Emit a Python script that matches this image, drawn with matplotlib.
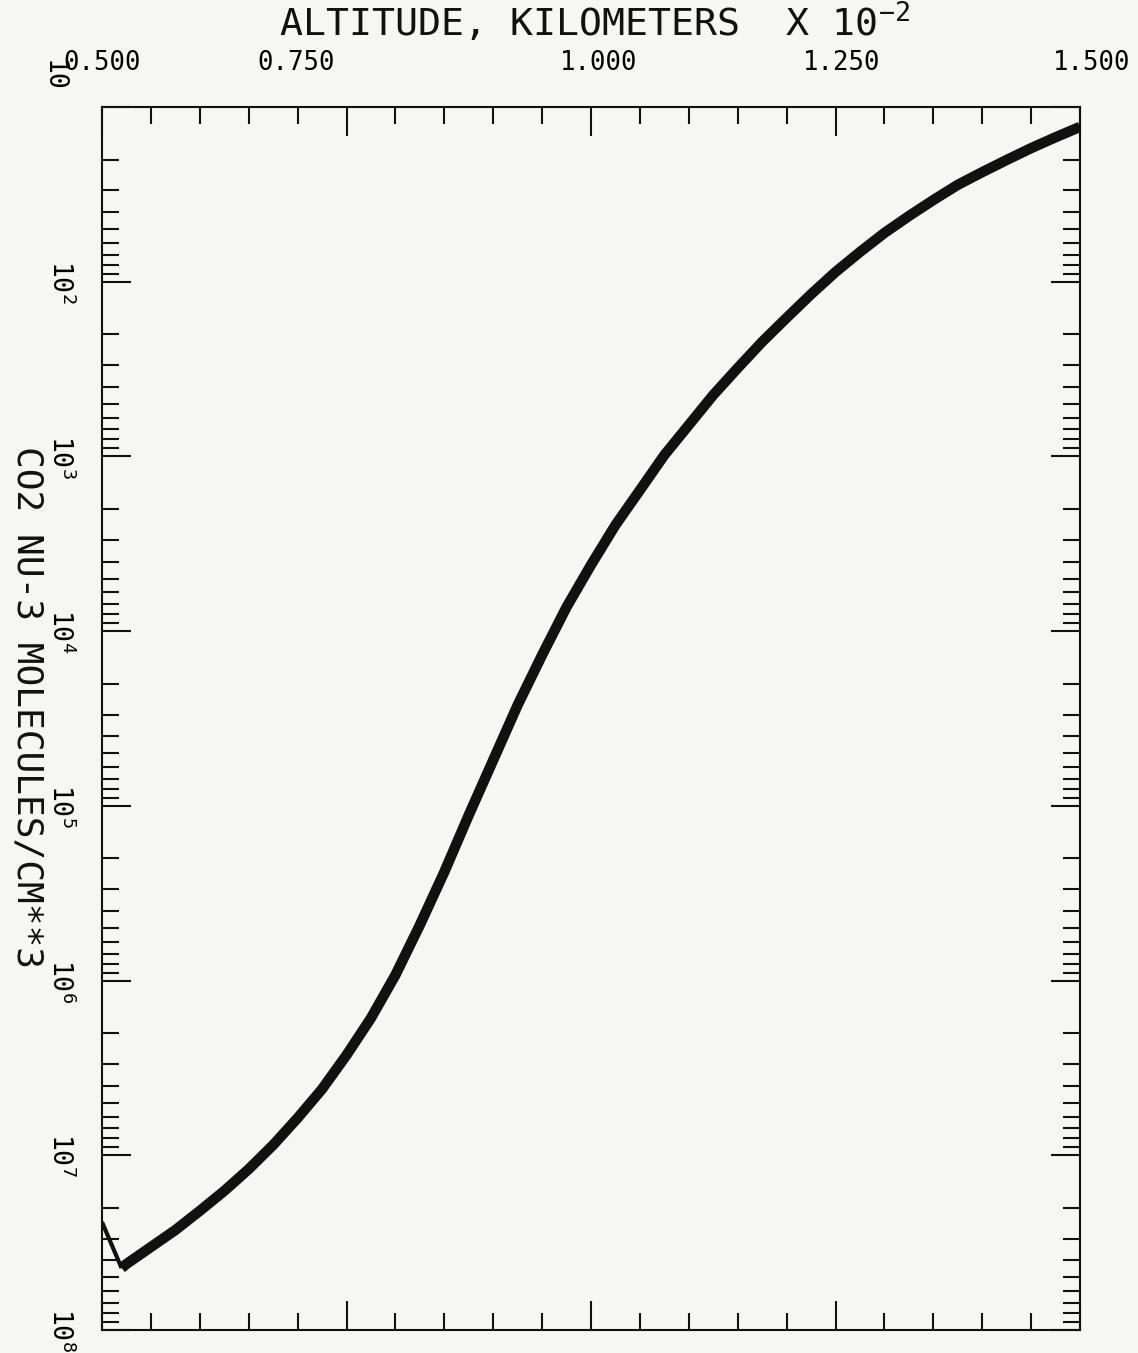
import matplotlib
matplotlib.use("Agg")
import matplotlib.pyplot as plt
import matplotlib.ticker as mticker
from matplotlib.transforms import ScaledTranslation

plt.rcParams['font.family'] = ['DejaVu Sans Mono', 'DejaVu Sans']
plt.rcParams['mathtext.fontset'] = 'custom'
plt.rcParams['mathtext.rm'] = 'DejaVu Sans Mono'
plt.rcParams['mathtext.default'] = 'rm'

# altitude (km x 10^-2) vs CO2 nu-3 density
ALT = [0.500, 0.520, 0.525, 0.550, 0.575, 0.600, 0.625, 0.650, 0.675, 0.700,
       0.725, 0.750, 0.775, 0.800, 0.825, 0.850, 0.875, 0.900, 0.925, 0.950,
       0.975, 1.000, 1.025, 1.050, 1.075, 1.100, 1.125, 1.150, 1.175, 1.200,
       1.225, 1.250, 1.275, 1.300, 1.325, 1.350, 1.375, 1.400, 1.425, 1.450,
       1.475, 1.500]
DENS = [2.41e7, 4.42e7, 4.19e7, 3.35e7, 2.68e7, 2.08e7, 1.60e7, 1.20e7, 8.73e6, 6.12e6,
        4.18e6, 2.67e6, 1.64e6, 9.3e5, 4.81e5, 2.39e5, 1.13e5, 5.47e4, 2.65e4, 1.37e4,
        7.28e3, 4.18e3, 2.47e3, 1.56e3, 982, 661, 445, 312, 221, 161,
        118, 88, 67.6, 52.6, 42.1, 34.1, 27.9, 23.6, 20.1, 17.2,
        14.9, 13.0]

X_TICKS = [0.50, 0.75, 1.00, 1.25, 1.50]
X_LABELS = ['0.500', '0.750', '1.000', '1.250', '1.500']
Y_TICKS = [1e1, 1e2, 1e3, 1e4, 1e5, 1e6, 1e7, 1e8]
Y_LABELS = ['10', r'10$^2$', r'10$^3$', r'10$^4$', r'10$^5$', r'10$^6$',
            r'10$^7$', r'10$^8$']

BG = '#f6f6f4'
INK = '#111111'

fig = plt.figure(figsize=(11.38, 13.53), dpi=100, facecolor=BG)
ax = fig.add_axes([102/1138, 23/1353, 978/1138, 1223/1353], facecolor=BG)

# the first drop is drawn thin, the rest is a thick bundle of profiles
ax.plot(ALT[:2], DENS[:2], color=INK, lw=3, solid_capstyle='butt')
ax.plot(ALT[1:], DENS[1:], color=INK, lw=7.5, solid_joinstyle='round', solid_capstyle='butt')

ax.set_yscale('log')
ax.set_xlim(0.5, 1.5)
ax.set_ylim(1e8, 1e1)

ax.set_xticks(X_TICKS)
ax.set_xticklabels(X_LABELS)
ax.xaxis.set_minor_locator(mticker.MultipleLocator(0.05))
ax.set_yticks(Y_TICKS)
ax.set_yticklabels(Y_LABELS)
ax.yaxis.set_minor_locator(mticker.LogLocator(base=10, subs=range(2, 10), numticks=20))
ax.yaxis.set_minor_formatter(mticker.NullFormatter())

for s in ax.spines.values():
    s.set_linewidth(1.5)
    s.set_color(INK)

ax.tick_params(which='both', direction='in', top=True, bottom=True, left=True, right=True,
               labeltop=True, labelbottom=False, labelleft=True, labelright=False,
               color=INK, width=1.5)
ax.tick_params(which='major', length=21)
ax.tick_params(which='minor', length=12)
ax.tick_params(axis='x', which='major', pad=22.5, labelsize=18.5)
ax.tick_params(axis='y', which='major', pad=20, labelsize=19, labelrotation=270)
for lab in ax.get_yticklabels():
    lab.set_va('center')

# plotter put the top labels a little off their ticks
x_shift = [0, -50, 8, 6, 12]
for lab, dx in zip(ax.get_xticklabels(), x_shift):
    lab.set_transform(lab.get_transform() + ScaledTranslation(dx / 100, 0, fig.dpi_scale_trans))
top_lab = ax.get_yticklabels()[0]
top_lab.set_transform(top_lab.get_transform() + ScaledTranslation(-0.08, 0.31, fig.dpi_scale_trans))

ax.xaxis.set_label_position('top')
ax.set_xlabel(r'ALTITUDE, KILOMETERS  X 10$^{-2}$', fontsize=27.5, color=INK, va='baseline')
ax.xaxis.set_label_coords(493 / 978, (1330 - 37) / 1223)

ax.set_ylabel('CO2 NU-3 MOLECULES/CM**3', fontsize=26, color=INK, rotation=270,
              va='baseline', ha='center', rotation_mode='anchor')
ax.yaxis.set_label_coords((17 - 102) / 978, (1330 - 707) / 1223)

fig.savefig('out.png', dpi=100, facecolor=BG)
